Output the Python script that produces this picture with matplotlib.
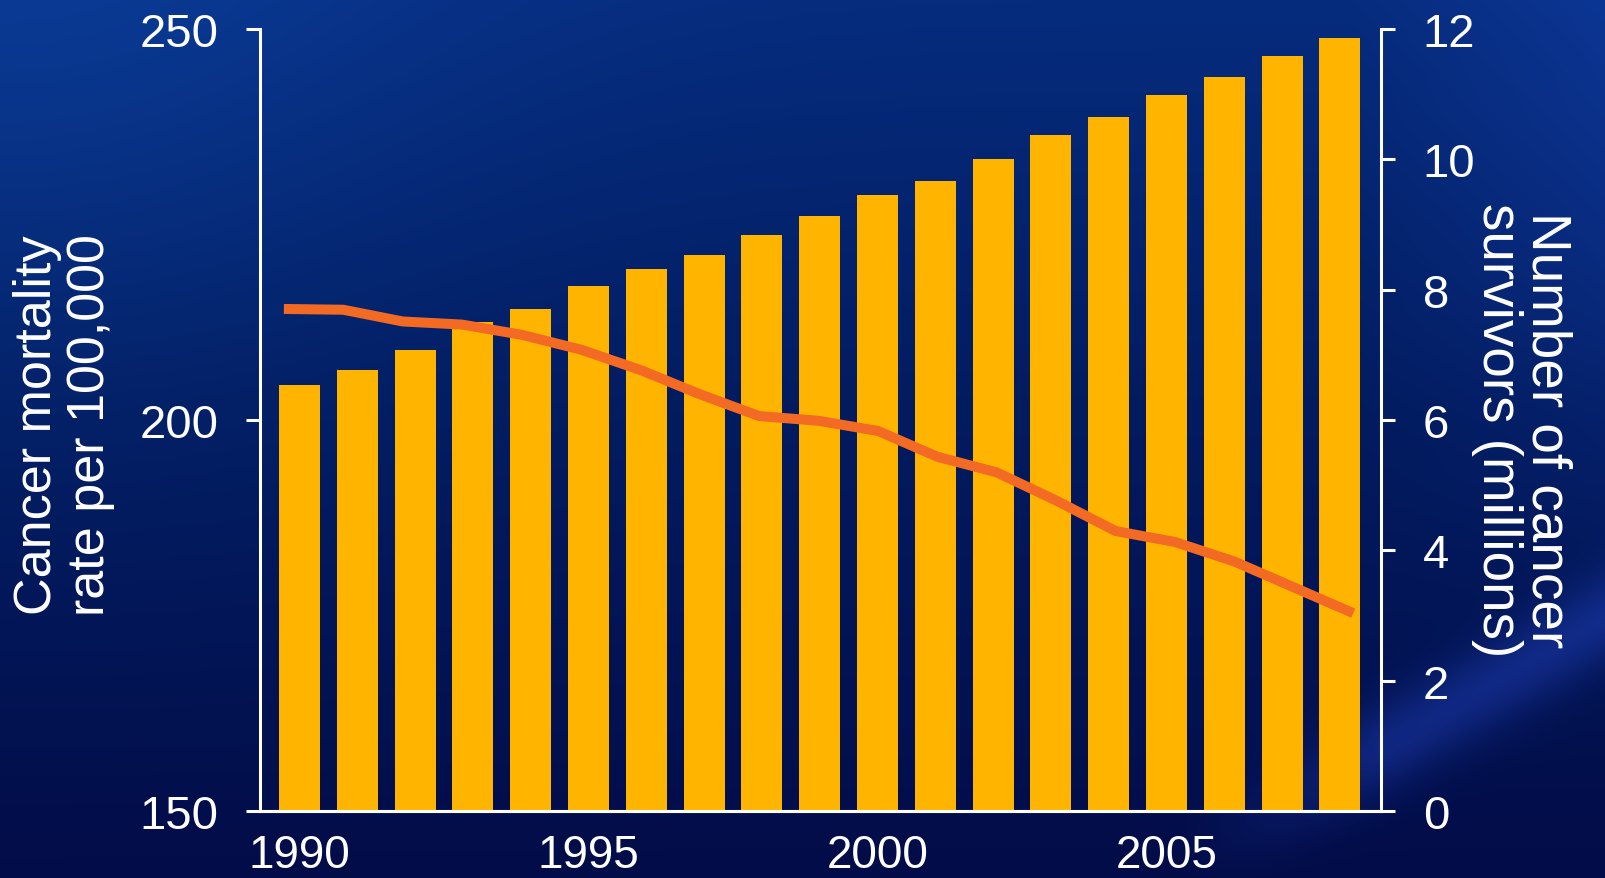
import numpy as np
import matplotlib
matplotlib.use("Agg")
import matplotlib.pyplot as plt

# ---------------- data ----------------
years = list(range(1990, 2009))
survivors_millions = [6.53, 6.77, 7.08, 7.51, 7.70, 8.06, 8.31, 8.53, 8.84, 9.13,
                      9.45, 9.67, 10.00, 10.37, 10.65, 10.98, 11.27, 11.59, 11.86]
mortality_rate = [214.2, 214.1, 212.6, 212.2, 210.9, 209.0, 206.4, 203.3, 200.5, 199.9,
                  198.6, 195.3, 193.3, 189.7, 185.8, 184.4, 181.9, 178.6, 175.3]
xtick_years = [1990, 1995, 2000, 2005]
left_ticks = [150, 200, 250]
right_ticks = [0, 2, 4, 6, 8, 10, 12]
left_label = "Cancer mortality\nrate per 100,000"
right_label = "Number of cancer\nsurvivors (millions)"

# ---------------- style ----------------
plt.rcParams['font.family'] = ['Liberation Sans', 'DejaVu Sans']
BAR = '#FFB500'
LINE = '#F26A24'
WHITE = 'white'

W, H = 1605, 879
fig = plt.figure(figsize=(W / 100, H / 100), dpi=100)

# background gradient
yy, xx = np.mgrid[0:H, 0:W]
t = yy / H
top = np.array([6, 44, 126]) / 255.0
mid = np.array([2, 28, 96]) / 255.0
bot = np.array([2, 12, 72]) / 255.0
img = np.empty((H, W, 3))
for c in range(3):
    img[..., c] = np.where(t < 0.45,
                           top[c] + (mid[c] - top[c]) * (t / 0.45),
                           mid[c] + (bot[c] - mid[c]) * ((t - 0.45) / 0.55))
# top-left glow
glow = np.exp(-(((xx / W) ** 2) / 0.08 + ((yy / H) ** 2) / 0.25))
img += glow[..., None] * (np.array([4, 14, 22]) / 255.0)
# right side lighter
rg = np.clip((xx - 1350) / 255.0, 0, 1) * np.clip((650 - yy) / 400.0, 0, 1)
img += rg[..., None] * (np.array([6, 10, 22]) / 255.0)
# diagonal streak bottom-right (soft)
p0 = np.array([1160.0, 879.0]); d = np.array([445.0, -260.0]); d /= np.linalg.norm(d)
n = np.array([-d[1], d[0]])
dist = (xx - p0[0]) * n[0] + (yy - p0[1]) * n[1]
along = (xx - p0[0]) * d[0] + (yy - p0[1]) * d[1]
streak = np.exp(-(dist / 40.0) ** 2) * np.clip(along / 260.0, 0, 1) ** 1.5
img += streak[..., None] * (np.array([14, 22, 50]) / 255.0)
img = np.clip(img, 0, 1)

bg = fig.add_axes([0, 0, 1, 1], zorder=-10)
bg.imshow(img, aspect='auto', extent=[0, 1, 0, 1], origin='upper')
bg.axis('off')

# ---------------- axes ----------------
left, right, bottom, topy = 260 / W, 1381 / W, 1 - 812 / H, 1 - 30 / H
ax2 = fig.add_axes([left, bottom, right - left, topy - bottom])
ax = ax2.twinx()
ax.yaxis.tick_left()
ax.yaxis.set_label_position('left')
ax2.yaxis.tick_right()

ax2.bar(years, survivors_millions, width=0.71, color=BAR, zorder=2)
ax2.set_ylim(0, 12)
ax2.set_yticks(right_ticks)
ax2.set_xlim(1989.317, 2008.71)

line_x = [years[0] - 0.27 + (y - years[0]) * (18.5 / 18) for y in years]
ax.plot(line_x, mortality_rate, color=LINE, lw=7.2, solid_capstyle='butt',
        solid_joinstyle='round', zorder=3)
ax.set_ylim(150, 250)
ax.set_yticks(left_ticks)

for a in (ax, ax2):
    a.patch.set_visible(False)
    for s in a.spines.values():
        s.set_color(WHITE)
        s.set_linewidth(2.2)
    a.spines['top'].set_visible(False)
    a.tick_params(axis='y', colors=WHITE, labelsize=34, length=10, width=2.2,
                  direction='out', pad=20)
    a.tick_params(axis='x', colors=WHITE, labelsize=33, length=0, pad=16)

ax.spines['right'].set_visible(False)
ax2.spines['left'].set_visible(False)
ax2.set_xticks(xtick_years)
ax2.set_xticklabels([str(y) for y in xtick_years])

# axis titles
fig.text(64 / W, 1 - 425 / H, left_label, rotation=90, ha='center', va='center',
         color=WHITE, fontsize=37.5, linespacing=1.1, multialignment='center')
fig.text(1522 / W, 1 - 430 / H, right_label, rotation=270, ha='center', va='center',
         color=WHITE, fontsize=39.5, linespacing=0.95, multialignment='center')

fig.savefig('out.png', dpi=100)
